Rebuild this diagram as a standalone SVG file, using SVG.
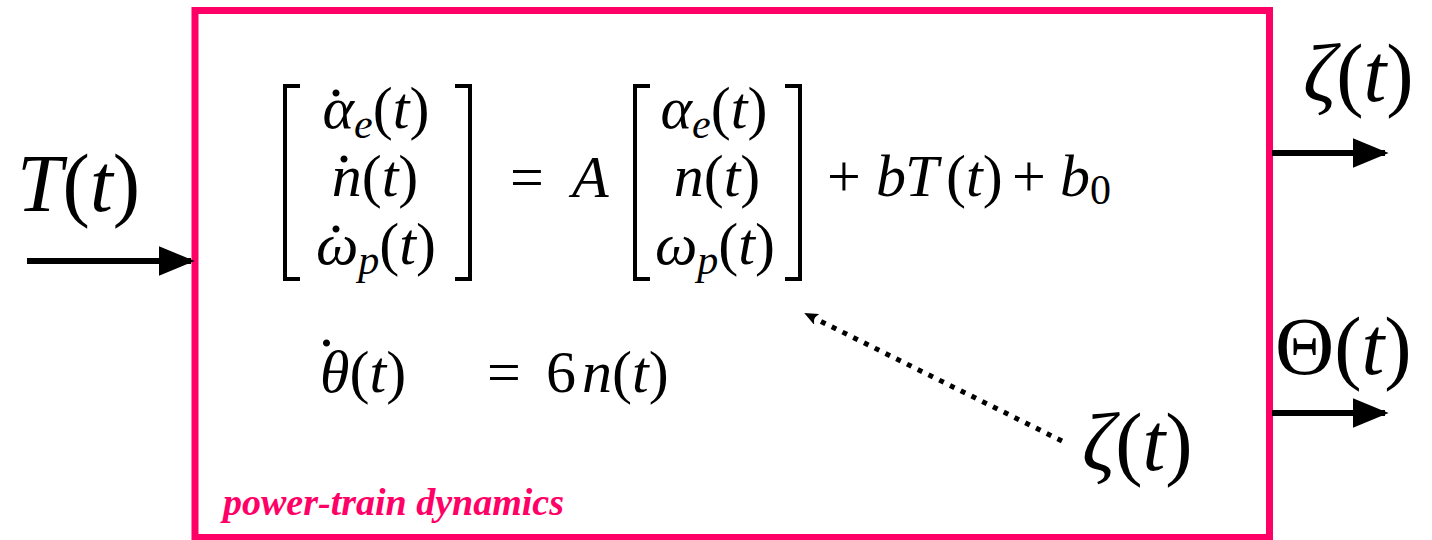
<svg xmlns="http://www.w3.org/2000/svg" width="1432" height="540" viewBox="0 0 1432 540">
<defs>
<marker id="ah" markerWidth="6" markerHeight="5" refX="5.4" refY="2.5" orient="auto" markerUnits="strokeWidth">
<path d="M0,0 L6,2.5 L0,5 z" fill="#000"/>
</marker>
<marker id="ahs" markerWidth="14" markerHeight="12" refX="12" refY="6" orient="auto" markerUnits="userSpaceOnUse">
<path d="M0,0 L14,6 L0,12 L3,6 z" fill="#000"/>
</marker>
</defs>

<g id="block">
<rect x="195" y="10.5" width="1074.5" height="527" fill="none" stroke="#FF0066" stroke-width="7"/>
<text font-family="Liberation Serif" font-size="38" font-weight="bold" font-style="italic" fill="#FF0066" x="223" y="515">power-train dynamics</text>
</g>

<g id="equation" fill="#000">
<g fill="none" stroke="#000" stroke-width="4">
<path d="M300,86 H285 V279 H300"/>
<path d="M455,86 H470 V279 H455"/>
<path d="M650,86 H635 V279 H650"/>
<path d="M785,86 H800 V279 H785"/>
</g>
<text font-family="Liberation Serif" font-size="60" text-anchor="middle"><tspan x="336" y="96">.</tspan><tspan x="376" y="128" font-style="italic">α</tspan><tspan font-style="italic" font-size="42" dy="10">e</tspan><tspan dy="-10">(</tspan><tspan font-style="italic">t</tspan>)</text>
<text font-family="Liberation Serif" font-size="60" text-anchor="middle"><tspan x="344" y="162">.</tspan><tspan x="375" y="196" font-style="italic">n</tspan>(<tspan font-style="italic">t</tspan>)</text>
<text font-family="Liberation Serif" font-size="60" text-anchor="middle"><tspan x="336" y="232">.</tspan><tspan x="376" y="264" font-style="italic">ω</tspan><tspan font-style="italic" font-size="42" dy="10">p</tspan><tspan dy="-10">(</tspan><tspan font-style="italic">t</tspan>)</text>
<text font-family="Liberation Serif" font-size="60" x="510" y="197">=</text>
<text font-family="Liberation Serif" font-size="60" font-style="italic" x="572" y="197">A</text>
<text font-family="Liberation Serif" font-size="60" x="714" y="128" text-anchor="middle"><tspan font-style="italic">α</tspan><tspan font-style="italic" font-size="42" dy="10">e</tspan><tspan dy="-10">(</tspan><tspan font-style="italic">t</tspan>)</text>
<text font-family="Liberation Serif" font-size="60" x="717" y="196" text-anchor="middle"><tspan font-style="italic">n</tspan>(<tspan font-style="italic">t</tspan>)</text>
<text font-family="Liberation Serif" font-size="60" x="715" y="264" text-anchor="middle"><tspan font-style="italic">ω</tspan><tspan font-style="italic" font-size="42" dy="10">p</tspan><tspan dy="-10">(</tspan><tspan font-style="italic">t</tspan>)</text>
<text font-family="Liberation Serif" font-size="60" y="196"><tspan x="827">+</tspan><tspan x="876" font-style="italic">b</tspan><tspan x="905" font-style="italic">T</tspan><tspan x="946">(</tspan><tspan font-style="italic">t</tspan>)<tspan x="1012">+</tspan><tspan x="1060" font-style="italic">b</tspan><tspan font-size="42" dy="8">0</tspan></text>
<text font-family="Liberation Serif" font-size="60"><tspan x="319" y="346">.</tspan><tspan x="320" y="392" font-style="italic">θ</tspan>(<tspan font-style="italic">t</tspan>)</text>
<text font-family="Liberation Serif" font-size="60" y="392"><tspan x="487">=</tspan><tspan x="546">6</tspan><tspan x="582" font-style="italic">n</tspan>(<tspan font-style="italic">t</tspan>)</text>
</g>

<g id="input-T">
<text font-family="Liberation Serif" font-size="82" x="17" y="211"><tspan font-style="italic">T</tspan>(<tspan font-style="italic">t</tspan>)</text>
</g>
<g id="output-zeta">
<text font-family="Liberation Serif" font-size="82" x="1303" y="101"><tspan font-style="italic">ζ</tspan>(<tspan font-style="italic">t</tspan>)</text>
</g>
<g id="output-theta">
<text font-family="Liberation Serif" font-size="82" x="1275" y="374">Θ(<tspan font-style="italic">t</tspan>)</text>
</g>
<g id="param-zeta">
<text font-family="Liberation Serif" font-size="82" x="1082" y="470"><tspan font-style="italic">ζ</tspan>(<tspan font-style="italic">t</tspan>)</text>
</g>

<g id="connectors" stroke="#000" fill="none">
<line stroke-width="6" x1="27" y1="261" x2="191" y2="261" marker-end="url(#ah)"/>
<line stroke-width="6" x1="1272" y1="153" x2="1385" y2="153" marker-end="url(#ah)"/>
<line stroke-width="6" x1="1272" y1="413" x2="1385" y2="413" marker-end="url(#ah)"/>
<line stroke-width="5" stroke-dasharray="5,7" x1="1062" y1="441" x2="806" y2="314" marker-end="url(#ahs)"/>
</g>
</svg>
